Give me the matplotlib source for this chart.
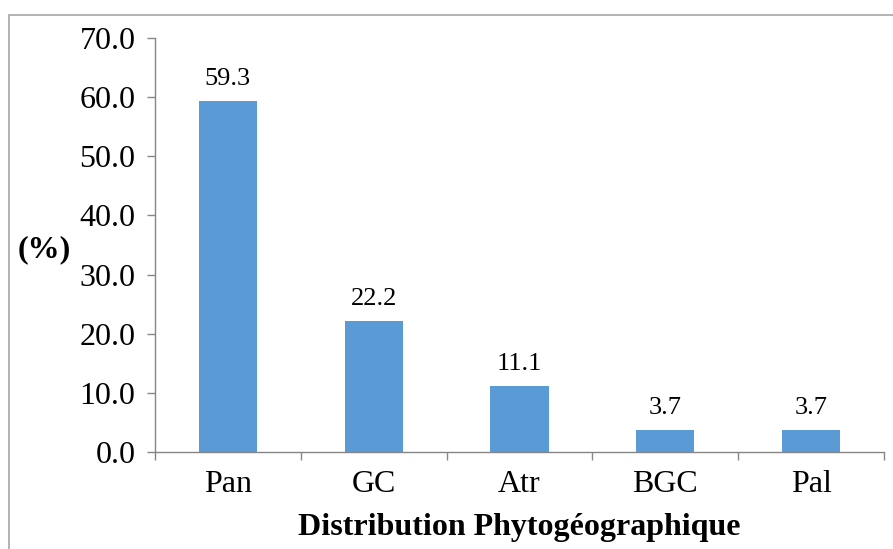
import matplotlib
matplotlib.use("Agg")
import matplotlib.pyplot as plt
import numpy as np
from matplotlib.patches import Rectangle


categories = ["Pan", "GC", "Atr", "BGC", "Pal"]
percentages = [59.3, 22.2, 11.1, 3.7, 3.7]
y_ticks = [0, 10, 20, 30, 40, 50, 60, 70]

BAR_COLOR = "#5B9BD5"
AXIS_COLOR = "#868686"


def main() -> None:
    plt.rcParams["font.family"] = ["Liberation Serif", "DejaVu Serif"]

    fig = plt.figure(figsize=(8.93, 5.49), dpi=100)
    ax = fig.add_axes([0.1736, 0.1767, 0.8163, 0.7541])

    x = np.arange(len(categories))
    bars = ax.bar(x, percentages, width=0.4, color=BAR_COLOR, zorder=2)

    for bar, v in zip(bars, percentages):
        ax.annotate(
            f"{v:.1f}",
            (bar.get_x() + bar.get_width() / 2, v),
            xytext=(0, 8),
            textcoords="offset points",
            ha="center",
            va="bottom",
            fontsize=19,
        )

    ax.set_xlim(-0.5, len(categories) - 0.5)
    ax.set_ylim(0, 70)
    ax.set_yticks(y_ticks, labels=[f"{t:.1f}" for t in y_ticks], fontsize=23)
    ax.set_xticks(x, labels=categories, fontsize=23)
    ax.set_xticks(np.arange(-0.5, len(categories), 1), minor=True)

    ax.tick_params(axis="y", direction="out", length=6, width=1, color=AXIS_COLOR, pad=8)
    ax.tick_params(axis="x", which="major", length=0, pad=13)
    ax.tick_params(axis="x", which="minor", direction="out", length=6, width=1, color=AXIS_COLOR)

    for side in ("top", "right"):
        ax.spines[side].set_visible(False)
    for side in ("left", "bottom"):
        ax.spines[side].set_color(AXIS_COLOR)
        ax.spines[side].set_linewidth(1)

    fig.text(0.049, 0.545, "(%)", fontsize=23, fontweight="bold", ha="center", va="center")
    fig.text(0.581, 0.04, "Distribution Phytogéographique", fontsize=23,
             fontweight="bold", ha="center", va="center")

    # chart frame, cropped at the right and bottom in the original
    fig.patches.append(Rectangle((9 / 893, -0.05), 1.0, 1 - 15 / 549 + 0.05,
                                 transform=fig.transFigure, fill=False,
                                 edgecolor="#A6A6A6", linewidth=1.2))

    fig.savefig("out.png", dpi=100, facecolor="white")
    plt.close(fig)


if __name__ == "__main__":
    main()
